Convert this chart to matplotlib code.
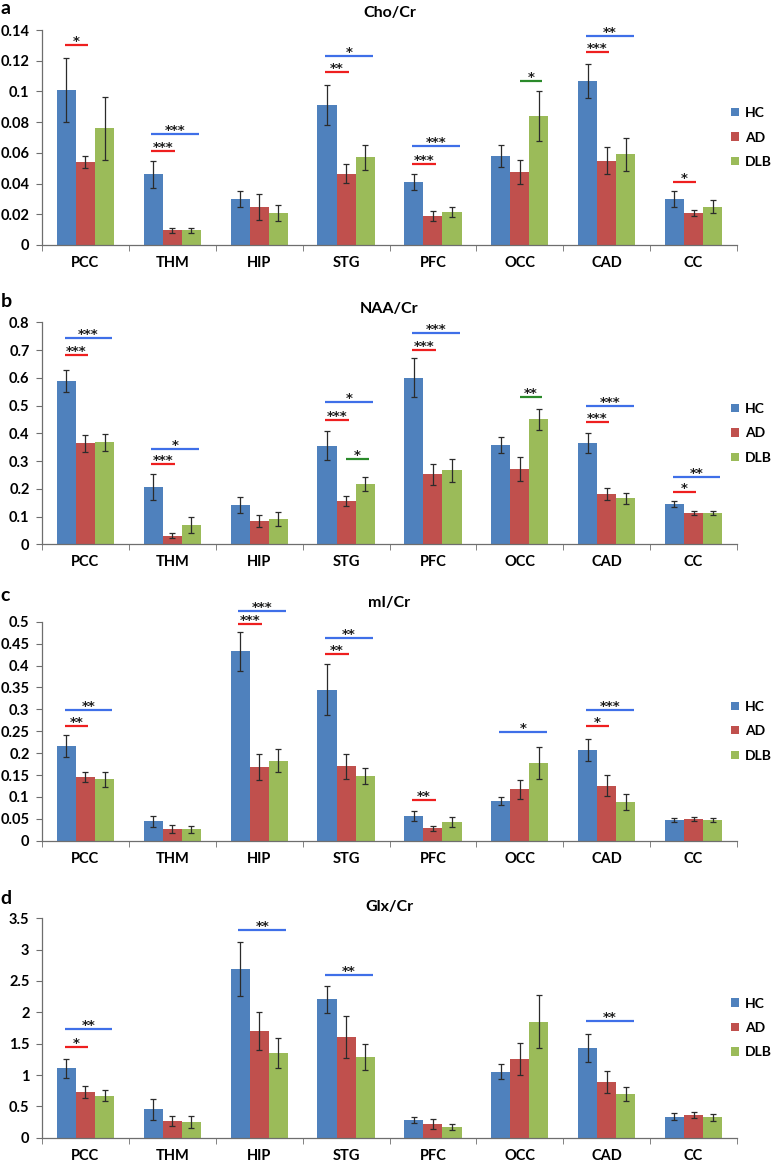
import numpy as np
import matplotlib
matplotlib.use("Agg")
import matplotlib.pyplot as plt
from matplotlib.ticker import FuncFormatter, MultipleLocator, FixedLocator

plt.rcParams['font.family'] = ['Lato', 'DejaVu Sans']
plt.rcParams['font.weight'] = 'bold'

regions = ['PCC', 'THM', 'HIP', 'STG', 'PFC', 'OCC', 'CAD', 'CC']
groups = ['HC', 'AD', 'DLB']

# Cho/Cr
cho_hc = [0.101, 0.046, 0.030, 0.091, 0.041, 0.058, 0.107, 0.030]
cho_hc_err = [0.021, 0.009, 0.005, 0.013, 0.005, 0.007, 0.011, 0.005]
cho_ad = [0.054, 0.0095, 0.0245, 0.0465, 0.019, 0.0475, 0.055, 0.021]
cho_ad_err = [0.004, 0.0017, 0.0085, 0.006, 0.0033, 0.008, 0.0087, 0.002]
cho_dlb = [0.076, 0.0095, 0.021, 0.057, 0.0215, 0.084, 0.059, 0.025]
cho_dlb_err = [0.0205, 0.0017, 0.0052, 0.008, 0.003, 0.0163, 0.011, 0.0043]

# NAA/Cr
naa_hc = [0.589, 0.205, 0.142, 0.356, 0.601, 0.358, 0.365, 0.145]
naa_hc_err = [0.04, 0.047, 0.03, 0.053, 0.07, 0.028, 0.037, 0.012]
naa_ad = [0.364, 0.031, 0.084, 0.156, 0.252, 0.272, 0.181, 0.113]
naa_ad_err = [0.03, 0.008, 0.022, 0.019, 0.037, 0.043, 0.023, 0.008]
naa_dlb = [0.368, 0.070, 0.091, 0.217, 0.266, 0.451, 0.166, 0.112]
naa_dlb_err = [0.031, 0.03, 0.024, 0.026, 0.042, 0.038, 0.02, 0.008]

# mI/Cr
mi_hc = [0.217, 0.044, 0.432, 0.345, 0.056, 0.091, 0.208, 0.047]
mi_hc_err = [0.025, 0.013, 0.045, 0.058, 0.012, 0.009, 0.025, 0.0045]
mi_ad = [0.145, 0.027, 0.168, 0.170, 0.028, 0.117, 0.126, 0.049]
mi_ad_err = [0.012, 0.009, 0.03, 0.028, 0.006, 0.021, 0.025, 0.0046]
mi_dlb = [0.140, 0.026, 0.183, 0.148, 0.042, 0.178, 0.089, 0.048]
mi_dlb_err = [0.0175, 0.008, 0.026, 0.019, 0.011, 0.0365, 0.018, 0.0046]

# Glx/Cr
glx_hc = [1.106, 0.452, 2.697, 2.207, 0.282, 1.053, 1.426, 0.335]
glx_hc_err = [0.149, 0.165, 0.431, 0.213, 0.053, 0.122, 0.223, 0.053]
glx_ad = [0.723, 0.26, 1.707, 1.606, 0.223, 1.25, 0.894, 0.362]
glx_ad_err = [0.096, 0.08, 0.303, 0.341, 0.08, 0.255, 0.175, 0.053]
glx_dlb = [0.67, 0.255, 1.346, 1.282, 0.176, 1.851, 0.691, 0.324]
glx_dlb_err = [0.085, 0.096, 0.239, 0.207, 0.048, 0.426, 0.112, 0.053]

# significance bars: (region index, comparison, height, stars)
cho_sig = [(0, 'HC-AD', 0.130, '*'), (1, 'HC-DLB', 0.0724, '***'), (1, 'HC-AD', 0.0615, '***'),
           (3, 'HC-DLB', 0.1228, '*'), (3, 'HC-AD', 0.1126, '**'), (4, 'HC-DLB', 0.0646, '***'),
           (4, 'HC-AD', 0.0526, '***'), (5, 'AD-DLB', 0.107, '*'), (6, 'HC-DLB', 0.1363, '**'),
           (6, 'HC-AD', 0.1254, '***'), (7, 'HC-AD', 0.0411, '*')]
naa_sig = [(0, 'HC-DLB', 0.742, '***'), (0, 'HC-AD', 0.681, '***'), (1, 'HC-DLB', 0.3435, '*'),
           (1, 'HC-AD', 0.288, '***'), (3, 'HC-DLB', 0.512, '*'), (3, 'HC-AD', 0.449, '***'),
           (3, 'AD-DLB', 0.3075, '*'), (4, 'HC-DLB', 0.763, '***'), (4, 'HC-AD', 0.7015, '***'),
           (5, 'AD-DLB', 0.53, '**'), (6, 'HC-DLB', 0.4997, '***'), (6, 'HC-AD', 0.441, '***'),
           (7, 'HC-DLB', 0.2414, '**'), (7, 'HC-AD', 0.19, '*')]
mi_sig = [(0, 'HC-DLB', 0.2983, '**'), (0, 'HC-AD', 0.2626, '**'), (2, 'HC-DLB', 0.5236, '***'),
          (2, 'HC-AD', 0.494, '***'), (3, 'HC-DLB', 0.462, '**'), (3, 'HC-AD', 0.426, '**'),
          (4, 'HC-AD', 0.0928, '**'), (5, 'HC-DLB', 0.2473, '*'), (6, 'HC-DLB', 0.299, '***'),
          (6, 'HC-AD', 0.261, '*')]
glx_sig = [(0, 'HC-DLB', 1.734, '**'), (0, 'HC-AD', 1.452, '*'), (2, 'HC-DLB', 3.314, '**'),
           (3, 'HC-DLB', 2.59, '**'), (6, 'HC-DLB', 1.862, '**')]

bar_colors = ['#4f81bd', '#c0504d', '#9bbb59']
sig_style = {'HC-AD': ('#ee1f1f', -0.24, 0.03),
             'HC-DLB': ('#3f6fe8', -0.24, 0.31),
             'AD-DLB': ('#2a8a2a', 0.0, 0.26)}

panels = [
    ('a', 'Cho/Cr', [cho_hc, cho_ad, cho_dlb], [cho_hc_err, cho_ad_err, cho_dlb_err], cho_sig, 0.14, 0.02),
    ('b', 'NAA/Cr', [naa_hc, naa_ad, naa_dlb], [naa_hc_err, naa_ad_err, naa_dlb_err], naa_sig, 0.8, 0.1),
    ('c', 'mI/Cr', [mi_hc, mi_ad, mi_dlb], [mi_hc_err, mi_ad_err, mi_dlb_err], mi_sig, 0.5, 0.05),
    ('d', 'Glx/Cr', [glx_hc, glx_ad, glx_dlb], [glx_hc_err, glx_ad_err, glx_dlb_err], glx_sig, 3.5, 0.5),
]

# layout in pixels of the 774x1163 figure
W, H = 774, 1163
ax_left, ax_right = 42, 737
ax_rows = [(30, 245), (322.3, 544.3), (621.7, 840.7), (918.3, 1137.7)]
title_y = [13, 309, 603, 907]
letter_top = [0.5, 293, 587, 890.5]

fig = plt.figure(figsize=(W / 100, H / 100), dpi=100)
x = np.arange(len(regions))
bw = 0.22
axis_col = '#6e6e6e'

for k, (letter, title, vals, errs, sigs, ymax, ystep) in enumerate(panels):
    top, bot = ax_rows[k]
    ax = fig.add_axes([ax_left / W, 1 - bot / H, (ax_right - ax_left) / W, (bot - top) / H])
    for i in range(3):
        ax.bar(x + (i - 1) * bw, vals[i], bw, color=bar_colors[i], label=groups[i],
               yerr=errs[i], error_kw=dict(ecolor='#2b2b2b', elinewidth=0.9, capsize=2.3, capthick=0.9))
    for idx, pair, yv, stars in sigs:
        col, x0, x1 = sig_style[pair]
        ax.plot([idx + x0, idx + x1], [yv, yv], color=col, lw=1.6, clip_on=False, solid_capstyle='butt')
        ax.text(idx + (x0 + x1) / 2, yv, stars, ha='center', va='baseline', fontsize=9.5,
                color='#1e1e1e', family=['DejaVu Sans'], fontweight='bold', clip_on=False)

    ax.set_xlim(-0.5, len(regions) - 0.5)
    ax.set_ylim(0, ymax)
    ax.yaxis.set_major_locator(MultipleLocator(ystep))
    ax.yaxis.set_major_formatter(FuncFormatter(lambda v, p: '%g' % round(v, 4)))
    ax.set_xticks(x)
    ax.set_xticklabels(regions)
    ax.xaxis.set_minor_locator(FixedLocator(np.arange(-0.5, len(regions), 1.0)))
    ax.tick_params(axis='x', which='major', length=0, pad=8, labelsize=10.5)
    ax.tick_params(axis='x', which='minor', length=4, color=axis_col, direction='out')
    ax.tick_params(axis='y', length=4, color=axis_col, direction='out', labelsize=10.5, pad=5)
    for s in ['top', 'right']:
        ax.spines[s].set_visible(False)
    for s in ['left', 'bottom']:
        ax.spines[s].set_color(axis_col)
        ax.spines[s].set_linewidth(0.9)

    ax.legend(loc='center left', bbox_to_anchor=(0.992, 0.5), frameon=False, fontsize=10,
              handlelength=0.55, handleheight=0.55, handletextpad=0.4, labelspacing=0.9,
              borderaxespad=0, borderpad=0)

    fig.text((ax_left + ax_right) / 2 / W, 1 - title_y[k] / H, title, ha='center', va='center',
             fontsize=11.5, fontweight='bold')
    fig.text(0.001, 1 - letter_top[k] / H, letter, ha='left', va='top', fontsize=14, fontweight='bold')

fig.savefig('out.png', dpi=100)
